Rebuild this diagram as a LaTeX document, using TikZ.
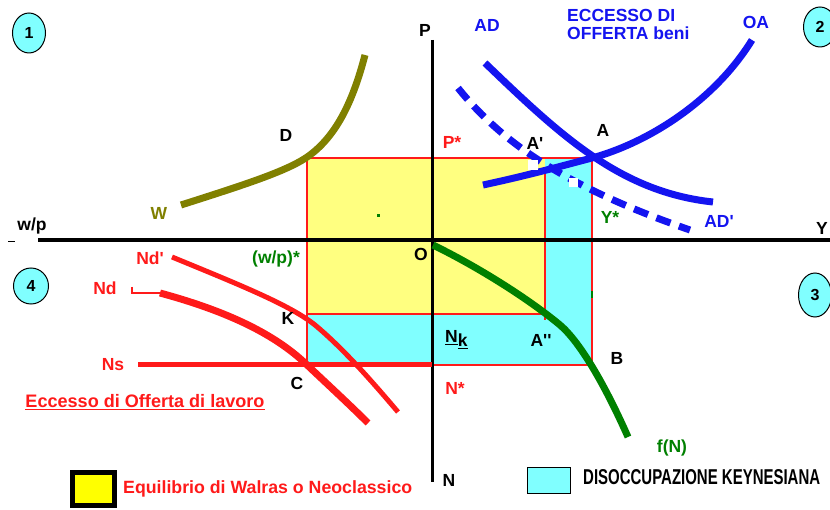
\documentclass[tikz,border=0pt]{standalone}
\usepackage{graphicx}
\usepackage{fontspec}
\setmainfont{Liberation Sans}
\usetikzlibrary{shapes.geometric}
\definecolor{cy}{HTML}{80FFFF}
\definecolor{ye}{HTML}{FFFF80}
\definecolor{ylw}{HTML}{FFFF00}
\definecolor{rd}{HTML}{FF1A1A}
\definecolor{bl}{HTML}{1414F0}
\definecolor{ol}{HTML}{808000}
\definecolor{gr}{HTML}{008000}
\newcommand{\pr}{\textquotesingle}
\begin{document}
\begin{tikzpicture}[x=1pt,y=-1pt,
  lbl/.style={font=\fontsize{17.5}{19}\selectfont\bfseries, inner sep=0pt},
  quad/.style={ellipse, draw=black, line width=1pt, fill=cy, minimum width=33pt, minimum height=40pt, inner sep=0pt, font=\fontsize{16}{18}\selectfont\bfseries},
  redline/.style={draw=rd, line width=1.2pt},
  curve/.style={line cap=butt, line join=round},
]
\useasboundingbox (0,0) rectangle (830,510);
\fill[white] (0,0) rectangle (830,510);

% regions
\fill[ye] (307,158) rectangle (545,314);
\fill[cy] (545,158) rectangle (592,365);
\fill[cy] (307,314) rectangle (545,365);
% red rectangle lines
\draw[redline] (307,365) -- (307,158) -- (592,158) -- (592,365) -- (307,365);
\draw[redline] (307,314) -- (545,314);
\draw[redline] (545,168) -- (545,320);

% axes
\coordinate (xl) at (38,240); \coordinate (xr) at (830,240);
\coordinate (yt) at (432,40); \coordinate (yb) at (432,482);
\draw[line width=4pt] (xl) -- (xr);
\draw[line width=3pt] (yt) -- (yb);
\draw[line width=1pt] (8,242) -- (15,242);

% quadrant markers
\node[quad] (q1) at (29,33) {1};
\node[quad] (q2) at (820,27) {2};
\node[quad, minimum width=35pt, minimum height=36pt] (q4) at (31,286) {4};
\node[quad, minimum height=44pt] (q3) at (815,295) {3};

% W curve (olive)
\draw[ol, line width=7pt, curve] (181,205) .. controls (250,183) and (290,170) .. (310,155) .. controls (335,136) and (352,105) .. (365,55);

% AD solid
\draw[bl, line width=7pt, curve] (485,63) .. controls (560,135) and (620,192) .. (713,202);
% OA
\draw[bl, line width=7pt, curve] (483,185) .. controls (530,175) and (565,165) .. (592,158) .. controls (650,142) and (715,100) .. (752,40);
% AD' dashed
\draw[bl, line width=7pt, dash pattern=on 15pt off 9pt] (458,88) .. controls (500,140) and (560,185) .. (690,230);
\fill[white] (528,160) rectangle (538,170);
\fill[white] (569,178) rectangle (578,187);

% f(N) green
\draw[gr, line width=7pt, curve] (433,245) .. controls (480,268) and (530,300) .. (560,325) .. controls (580,342) and (605,385) .. (628,437);

% labour market curves
\draw[rd, line width=5pt, curve] (172,257) .. controls (240,285) and (290,305) .. (315,325) .. controls (345,350) and (375,385) .. (398,412);
\draw[rd, line width=7pt, curve] (160,293) .. controls (230,312) and (275,335) .. (305,363) .. controls (325,382) and (350,405) .. (368,423);
\draw[rd, line width=2pt] (132,287) -- (132,293) -- (162,293);
\coordinate (ns1) at (138,365); \coordinate (ns2) at (432,365);
\draw[rd, line width=5pt] (ns1) -- (ns2);

% small marks
\fill[gr] (377,214) rectangle (380,217);
\draw[gr, line width=1.5pt] (592,291) -- (592,298);

% labels
\node[lbl] (lP) at (425,30) {P};
\node[lbl] (lwp) at (32,226) {w/p};
\node[lbl] (lY) at (822,228) {Y};
\node[lbl, ol] (lW) at (159,213) {W};
\node[lbl] (lD) at (286,135) {D};
\node[lbl, bl] (lAD) at (487,25) {AD};
\node[lbl, bl, anchor=west] (lE1) at (567,15) {ECCESSO DI};
\node[lbl, bl, anchor=west] (lE2) at (567,33) {OFFERTA beni};
\node[lbl, bl] (lOA) at (756,22) {OA};
\node[lbl] (lA) at (603,130) {A};
\node[lbl] (lA1) at (535,143) {A\pr};
\node[lbl, rd] (lPs) at (452,142) {P*};
\node[lbl, gr] (lYs) at (610,217) {Y*};
\node[lbl, bl] (lAD1) at (719,221) {AD\pr};
\node[lbl, gr] (lwps) at (276,259) {(w/p)*};
\node[lbl] (lO) at (421,254) {O};
\node[lbl, rd] (lNd1) at (150,258) {Nd\pr};
\node[lbl, rd] (lNd) at (105,288) {Nd};
\node[lbl, rd] (lNs) at (113,365) {Ns};
\node[lbl] (lK) at (288,318) {K};
\node[lbl] (lC) at (297,383) {C};
\node[lbl, rd] (lEcc) at (145,402) {\resizebox{239pt}{!}{\underline{Eccesso di Offerta di lavoro}}};
\node[lbl, anchor=base west] (lNk) at (445,343) {\underline{N}\raisebox{-4pt}{\underline{k}}};
\node[lbl] (lA2) at (541,340) {A\pr\pr};
\node[lbl] (lB) at (617,358) {B};
\node[lbl, rd] (lNs2) at (455,388) {N*};
\node[lbl, gr] (lfN) at (672,448) {f(N)};
\node[lbl] (lN) at (449,480) {N};

% legend
\node[draw=black, line width=5pt, fill=ylw, minimum width=42pt, minimum height=33pt, inner sep=0pt] (legY) at (93.5,489) {};
\node[lbl, rd, anchor=west] (legYt) at (123,489) {\resizebox{289pt}{!}{Equilibrio di Walras o Neoclassico}};
\node[draw=black, line width=1pt, fill=cy, minimum width=43pt, minimum height=26pt, inner sep=0pt] (legC) at (548.5,480) {};
\node[lbl, anchor=west] (legCt) at (583,477) {\resizebox{237pt}{15pt}{DISOCCUPAZIONE KEYNESIANA}};
\end{tikzpicture}
\end{document}
